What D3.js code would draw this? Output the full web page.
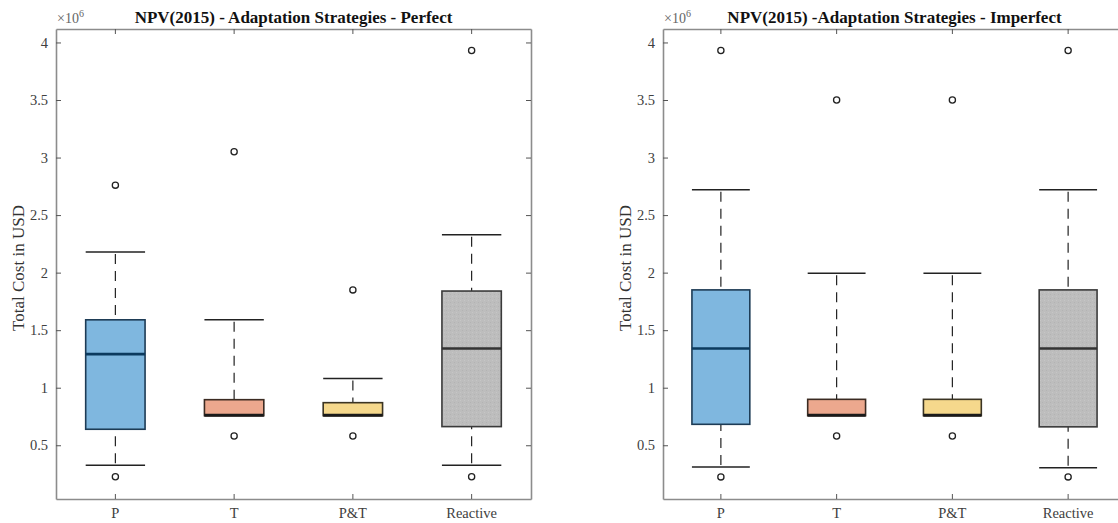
<!DOCTYPE html>
<html>
<head>
<meta charset="utf-8">
<script src="https://cdn.jsdelivr.net/npm/d3@7"></script>
<style>
  body { margin: 0; background: #fff; }
  text { font-family: "Liberation Serif", "Times New Roman", serif; }
</style>
</head>
<body>
<div id="chart"></div>
<script>
const categories = ["P", "T", "P&T", "Reactive"];
const yTicks = [0.5, 1, 1.5, 2, 2.5, 3, 3.5, 4];

// perfect adaptation (values in 10^6 USD)
const perfectLow = [0.327, 0.757, 0.757, 0.327];
const perfectQ1 = [0.639, 0.757, 0.757, 0.662];
const perfectMedian = [1.292, 0.762, 0.762, 1.341];
const perfectQ3 = [1.59, 0.896, 0.87, 1.84];
const perfectHigh = [2.18, 1.59, 1.081, 2.33];
const perfectOutliers = [[0.226, 2.76], [0.58, 3.05], [0.58, 1.85], [0.226, 3.93]];

// imperfect adaptation
const imperfectLow = [0.312, 0.757, 0.757, 0.305];
const imperfectQ1 = [0.682, 0.757, 0.757, 0.66];
const imperfectMedian = [1.341, 0.762, 0.762, 1.341];
const imperfectQ3 = [1.85, 0.899, 0.899, 1.85];
const imperfectHigh = [2.72, 1.994, 1.994, 2.72];
const imperfectOutliers = [[0.225, 3.93], [0.58, 3.5], [0.58, 3.5], [0.225, 3.93]];

const fills = ["#7fb7df", "#eca88e", "#f5d88c", "url(#stipple)"];
const edges = ["#1d3b55", "#3b2b22", "#3b3423", "#3a3a3a"];
const medianColors = ["#0b3a5e", "#1a1a1a", "#1a1a1a", "#333333"];

class BoxPanel {
  constructor(svg, config) {
    this.svg = svg;
    this.config = config;
    this.g = svg.append("g");
    this.xScale = null;
    this.yScale = null;
    this.rows = [];
  }

  loadData(low, q1, med, q3, high, outliers) {
    this.rows = categories.map((c, i) => {
      return { cat: c, i: i, lo: low[i], q1: q1[i], med: med[i], q3: q3[i], hi: high[i], out: outliers[i] };
    });
  }

  createScales() {
    this.xScale = d3.scaleBand().domain(categories).range([this.config.left, this.config.right]);
    this.yScale = d3.scaleLinear().domain([0.033, 4.117]).range([this.config.bottom, this.config.top]);
  }

  createAxis() {
    let c = this.config;
    let xb = d3.axisBottom(this.xScale).tickSizeInner(-5).tickSizeOuter(0).tickPadding(9);
    let xt = d3.axisTop(this.xScale).tickSizeInner(-5).tickSizeOuter(0).tickFormat("");
    let yl = d3.axisLeft(this.yScale).tickValues(yTicks).tickFormat(d => String(d))
      .tickSizeInner(-5).tickSizeOuter(0).tickPadding(8);
    let yr = d3.axisRight(this.yScale).tickValues(yTicks).tickSizeInner(-5).tickSizeOuter(0).tickFormat("");

    let axes = [
      this.g.append("g").attr("transform", `translate(0,${c.bottom})`).call(xb),
      this.g.append("g").attr("transform", `translate(0,${c.top})`).call(xt),
      this.g.append("g").attr("transform", `translate(${c.left},0)`).call(yl),
      this.g.append("g").attr("transform", `translate(${c.right},0)`).call(yr)
    ];
    axes.forEach(a => {
      a.select(".domain").attr("stroke", "#8c8c8c").attr("stroke-width", 1.6);
      a.selectAll(".tick line").attr("stroke", "#555").attr("stroke-width", 1);
      a.selectAll(".tick text").attr("fill", "#404040").style("font-size", "14.5px")
        .style("font-family", "'Liberation Serif', serif");
    });

    // exponent label
    let ex = this.g.append("text")
      .attr("x", c.left + 1)
      .attr("y", c.top - 6)
      .attr("fill", "#666")
      .style("font-size", "14px");
    ex.append("tspan").text("\u00d710");
    ex.append("tspan").attr("dy", -6).style("font-size", "10px").text("6");

    this.g.append("text")
      .attr("transform", `translate(${c.labelX},268)rotate(-90)`)
      .attr("text-anchor", "middle")
      .attr("fill", "#333")
      .style("font-size", "17px")
      .text("Total Cost in USD");

    this.g.append("text")
      .attr("x", (c.left + c.right) / 2)
      .attr("y", 23)
      .attr("text-anchor", "middle")
      .attr("fill", "#111")
      .style("font-size", "17px")
      .style("font-weight", "bold")
      .text(c.title);
  }

  render() {
    let x = this.xScale, y = this.yScale;
    let bw = x.bandwidth();
    let cx = d => x(d.cat) + bw / 2;

    let boxes = this.g.selectAll("g.box")
      .data(this.rows)
      .join("g")
      .attr("class", "box");

    // whiskers, dashes start at the caps
    boxes.append("line")
      .attr("x1", cx).attr("x2", cx)
      .attr("y1", d => y(d.hi) + 2).attr("y2", d => y(d.q3))
      .attr("stroke", "#222").attr("stroke-width", 1.2).attr("stroke-dasharray", "10,7");
    boxes.append("line")
      .attr("x1", cx).attr("x2", cx)
      .attr("y1", d => y(d.lo) - 2).attr("y2", d => y(d.q1))
      .attr("stroke", "#222").attr("stroke-width", 1.2).attr("stroke-dasharray", "10,7");

    // caps
    ["hi", "lo"].forEach(k => {
      boxes.append("line")
        .attr("x1", d => cx(d) - bw / 4).attr("x2", d => cx(d) + bw / 4)
        .attr("y1", d => y(d[k])).attr("y2", d => y(d[k]))
        .attr("stroke", "#222").attr("stroke-width", 1.5);
    });

    boxes.append("rect")
      .attr("x", d => cx(d) - bw / 4)
      .attr("y", d => y(d.q3))
      .attr("width", bw / 2)
      .attr("height", d => y(d.q1) - y(d.q3))
      .attr("fill", d => fills[d.i])
      .attr("stroke", d => edges[d.i])
      .attr("stroke-width", 1.6);

    boxes.append("line")
      .attr("x1", d => cx(d) - bw / 4).attr("x2", d => cx(d) + bw / 4)
      .attr("y1", d => y(d.med)).attr("y2", d => y(d.med))
      .attr("stroke", d => medianColors[d.i]).attr("stroke-width", 2.6);

    boxes.selectAll("circle")
      .data(d => d.out.map(v => ({ cat: d.cat, v: v })))
      .join("circle")
      .attr("cx", cx)
      .attr("cy", d => y(d.v))
      .attr("r", 3.1)
      .attr("fill", "none")
      .attr("stroke", "#222")
      .attr("stroke-width", 1.3);
  }
}

function main() {
  let svg = d3.select("#chart").append("svg")
    .attr("width", 1118)
    .attr("height", 523);

  let pat = svg.append("defs").append("pattern")
    .attr("id", "stipple")
    .attr("patternUnits", "userSpaceOnUse")
    .attr("width", 4).attr("height", 4);
  pat.append("rect").attr("width", 4).attr("height", 4).attr("fill", "#bdbdbd");
  pat.append("rect").attr("x", 0).attr("y", 0).attr("width", 1).attr("height", 1).attr("fill", "#c6c6c6");
  pat.append("rect").attr("x", 2).attr("y", 2).attr("width", 1).attr("height", 1).attr("fill", "#b3b3b3");

  let left = new BoxPanel(svg, {
    left: 56, right: 531, top: 29, bottom: 499, labelX: 24,
    title: "NPV(2015) - Adaptation Strategies - Perfect"
  });
  left.loadData(perfectLow, perfectQ1, perfectMedian, perfectQ3, perfectHigh, perfectOutliers);
  left.createScales();
  left.createAxis();
  left.render();

  let right = new BoxPanel(svg, {
    left: 663, right: 1126, top: 29, bottom: 499, labelX: 631,
    title: "NPV(2015) -Adaptation Strategies - Imperfect"
  });
  right.loadData(imperfectLow, imperfectQ1, imperfectMedian, imperfectQ3, imperfectHigh, imperfectOutliers);
  right.createScales();
  right.createAxis();
  right.render();
}

main();
</script>
</body>
</html>
